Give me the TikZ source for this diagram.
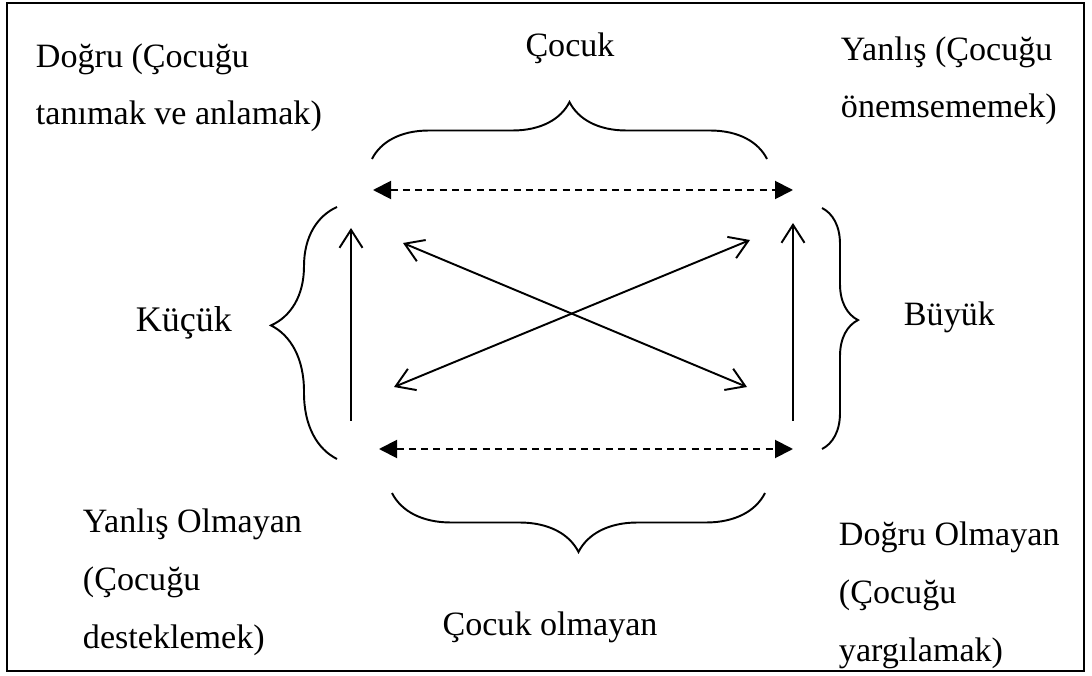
\documentclass[tikz,border=0pt]{standalone}
\usepackage{fontspec}
\setmainfont{Liberation Serif}
\usetikzlibrary{arrows.meta,decorations.pathreplacing,positioning}
\tikzset{
  every node/.style={font=\fontsize{19.4}{32.8}\selectfont,align=left,inner sep=0pt},
  pair/.style={{Straight Barb[length=3.6mm,width=4.6mm]}-{Straight Barb[length=3.6mm,width=4.6mm]}},
  up/.style={-{Straight Barb[length=3.6mm,width=4.6mm]}},
  link/.style={dash pattern=on 4pt off 3pt,{Triangle[length=3.6mm,width=3.6mm]}-{Triangle[length=3.6mm,width=3.6mm]}},
  curly/.style={decorate,decoration={brace,amplitude=#1}}
}

\begin{document}
\begin{tikzpicture}[line width=1.1pt]
  \useasboundingbox (0,0) rectangle (21.84,13.5);
  \draw (0.14,0.08) rectangle (21.68,13.44);

  % corners of the inner frame
  \coordinate (tl) at (7.46,9.70);
  \coordinate (tr) at (15.86,9.70);
  \coordinate (bl) at (7.58,4.52);
  \coordinate (br) at (15.86,4.52);
  \draw[link] (tl) -- (tr);
  \draw[link] (bl) -- (br);

  % sides
  \coordinate (l0) at (7.02,5.08);
  \coordinate (l1) at (7.02,8.94);
  \coordinate (r0) at (15.86,5.08);
  \coordinate (r1) at (15.86,9.04);
  \draw[up] (l0) -- (l1);
  \draw[up] (r0) -- (r1);

  % cross
  \coordinate (a1) at (8.06,8.64);
  \coordinate (a2) at (14.94,5.76);
  \coordinate (b1) at (7.88,5.76);
  \coordinate (b2) at (15.0,8.70);
  \draw[pair] (a1) -- (a2);
  \draw[pair] (b1) -- (b2);

  % braces
  \coordinate (t0) at (7.44,10.32);
  \coordinate (t1) at (15.34,10.32);
  \coordinate (u0) at (15.30,3.64);
  \coordinate (u1) at (7.84,3.64);
  \coordinate (k0) at (6.74,4.32);
  \coordinate (k1) at (6.74,9.36);
  \coordinate (g0) at (16.44,9.34);
  \coordinate (g1) at (16.44,4.52);
  \draw[curly=1.14cm] (t0) -- (t1);
  \draw[curly=1.18cm] (u0) -- (u1);
  \draw[curly=1.32cm,decoration={aspect=0.53}] (k0) -- (k1);
  \draw[curly=0.72cm,decoration={aspect=0.465}] (g0) -- (g1);

  % labels (base = last line)
  \node[anchor=base] (cocuk) at (11.4,12.36) {Çocuk};
  \node[anchor=base] (degil) at (11.0,0.8) {Çocuk olmayan};
  \node[anchor=base west,font=\fontsize{20.5}{24}\selectfont] (kucuk) at (2.7,6.86) {Küçük};
  \node[anchor=base west] (buyuk) at (18.06,6.98) {Büyük};

  \node[anchor=base west] (dogru) at (0.7,11.0) {Doğru (Çocuğu\\tanımak ve anlamak)};
  \node[anchor=base west] (yanlis) at (16.8,11.14) {Yanlış (Çocuğu\\önemsememek)};
  \node[anchor=base west] (destek) at (1.64,0.54) {Yanlış Olmayan\\(Çocuğu\\desteklemek)};
  \node[anchor=base west] (yargi) at (16.76,0.28) {Doğru Olmayan\\(Çocuğu\\yargılamak)};
\end{tikzpicture}
\end{document}
